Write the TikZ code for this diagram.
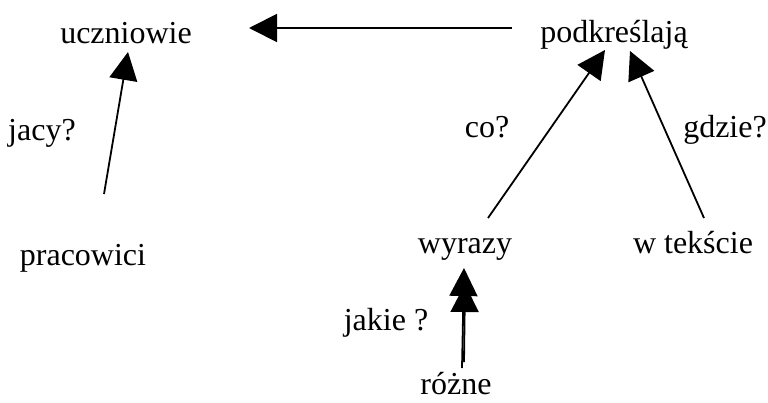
\documentclass[tikz,border=0pt]{standalone}
\usepackage{fontspec}
\setmainfont{Liberation Serif}
\usetikzlibrary{arrows.meta}
\begin{document}
\begin{tikzpicture}[x=1pt,y=-1pt,
  lbl/.style={anchor=base,inner sep=0pt,font=\fontsize{32}{38}\selectfont},
  conn/.style={line width=1.8pt,-{Triangle[length=28pt,width=28pt]}}]
\useasboundingbox (0,0) rectangle (768,402);
\node[lbl] (ucz) at (126,43) {uczniowie};
\node[lbl] (pod) at (614,42) {podkreślają};
\node[lbl] (pra) at (83,265) {pracowici};
\node[lbl] (jacy) at (42,140) {jacy?};
\node[lbl] (co) at (487,137) {co?};
\node[lbl] (gdz) at (725,137) {gdzie?};
\node[lbl] (wyr) at (465,253) {wyrazy};
\node[lbl] (wte) at (693,253) {w tekście};
\node[lbl] (jak) at (386,330) {jakie ?};
\node[lbl] (roz) at (456,394) {różne};
\coordinate (podL) at (512,28);
\coordinate (uczR) at (249,28);
\coordinate (uczB) at (128,52);
\coordinate (praT) at (104,194);
\coordinate (podB1) at (605,50);
\coordinate (podB2) at (630,51);
\coordinate (wyrT) at (488,218);
\coordinate (wteT) at (704,218);
\coordinate (wyrB) at (464,268);
\coordinate (wyrB2) at (465,284);
\coordinate (rozT) at (462,368);
\coordinate (rozT2) at (464,362);
\draw[conn] (podL) -- (uczR);
\draw[conn] (praT) -- (uczB);
\draw[conn] (wyrT) -- (podB1);
\draw[conn] (wteT) -- (podB2);
\draw[conn] (rozT) -- (wyrB);
\draw[conn] (rozT2) -- (wyrB2);
\end{tikzpicture}
\end{document}
